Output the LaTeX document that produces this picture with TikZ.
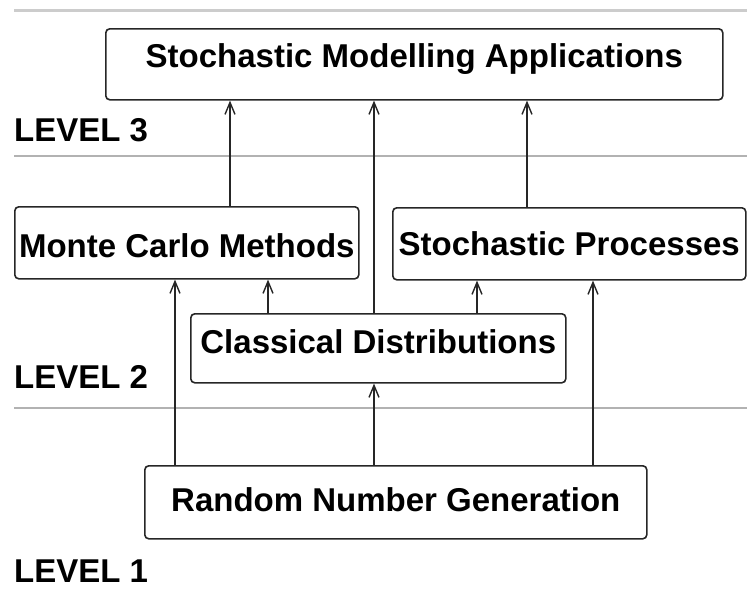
\documentclass[tikz,border=0pt]{standalone}
\usepackage{fontspec}
\setmainfont{Liberation Sans}
\usetikzlibrary{arrows.meta}
\begin{document}
\begin{tikzpicture}[x=1pt,y=-1pt,
  box/.style={draw=black!85, line width=1.6pt, rounded corners=4pt, inner sep=0pt, anchor=north west,
    font=\fontsize{33}{36}\selectfont\bfseries, align=center},
  lvl/.style={anchor=base west, inner sep=0pt, font=\fontsize{33}{36}\selectfont\bfseries},
  sep/.style={draw=black!30, line width=1.5pt},
  conn/.style={draw=black!85, line width=1.5pt, -{Straight Barb[length=12pt,width=10pt,line width=1.4pt]}}]
\useasboundingbox (0,0) rectangle (747,589);
% separators
\coordinate (s0a) at (14,10); \coordinate (s0b) at (747,10);
\coordinate (s1a) at (14,156); \coordinate (s1b) at (747,156);
\coordinate (s2a) at (14,408); \coordinate (s2b) at (747,408);
\draw[sep, draw=black!20, line width=3pt] (s0a) -- (s0b);
\draw[sep] (s1a) -- (s1b);
\draw[sep] (s2a) -- (s2b);
% boxes
\node[box, minimum width=617pt, text height=39pt, text depth=32pt] (top) at (105,28) {Stochastic Modelling Applications};
\node[box, minimum width=344pt, text height=51pt, text depth=21pt] (mc) at (14,206) {Monte Carlo Methods};
\node[box, minimum width=353pt, text height=48pt, text depth=24pt] (sp) at (392,207) {Stochastic Processes};
\node[box, minimum width=375pt, text height=40pt, text depth=29pt] (cd) at (190,313) {Classical Distributions};
\node[box, minimum width=502pt, text height=46pt, text depth=27pt] (rng) at (144,465) {Random Number Generation};
% level labels
\node[lvl] (l3) at (14,141) {LEVEL 3};
\node[lvl] (l2) at (14,388) {LEVEL 2};
\node[lvl] (l1) at (14,582) {LEVEL 1};
% connectors
\draw[conn] (mc.north -| 230,0) -- (top.south -| 230,0);
\draw[conn] (cd.north -| 374,0) -- (top.south -| 374,0);
\draw[conn] (sp.north -| 527,0) -- (top.south -| 527,0);
\draw[conn] (rng.north -| 175,0) -- (mc.south -| 175,0);
\draw[conn] (cd.north -| 268,0) -- (mc.south -| 268,0);
\draw[conn] (cd.north -| 477,0) -- (sp.south -| 477,0);
\draw[conn] (rng.north -| 593,0) -- (sp.south -| 593,0);
\draw[conn] (rng.north -| 374,0) -- (cd.south -| 374,0);
\end{tikzpicture}
\end{document}
